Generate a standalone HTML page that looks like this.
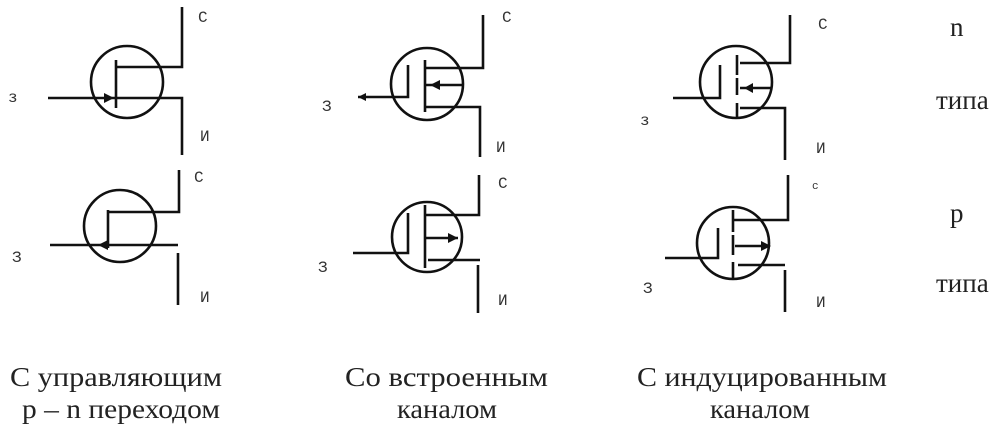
<!DOCTYPE html>
<html><head><meta charset="utf-8"><style>
body{margin:0;background:#fff;width:995px;height:424px;overflow:hidden}
svg{display:block}
.l{font-family:"Liberation Mono",monospace;font-size:16px;fill:#333}
.b{font-family:"Liberation Serif",serif;font-size:27px;fill:#222}
</style></head><body>
<svg width="995" height="424" viewBox="0 0 995 424" xmlns="http://www.w3.org/2000/svg">
<g stroke="#111" stroke-width="2.6" fill="none">
<circle cx="127" cy="82" r="36"/>
<path d="M182 7V67H116M116 60V108M48 98H182V155"/>
<circle cx="120" cy="226" r="36"/>
<path d="M179 170V212H108M108 210V248M50 245H178M178 253V305"/>
<circle cx="427" cy="84" r="36"/>
<path d="M358 97H408V65M425 60V112M425 68H483V15M425 85H463M425 107H480V157"/>
<circle cx="427" cy="237" r="35"/>
<path d="M353 253H408V213M425 205V268M425 215H479V175M425 238H458M428 260H480M478 265V313"/>
<circle cx="736" cy="82" r="36"/>
<path d="M673 98H720V65M737 55V75M737 78V95M737 103V118M740 63H790V15M740 88H772M740 108H785V160"/>
<circle cx="733" cy="243" r="36"/>
<path d="M665 258H718V228M733 210V232M733 235V255M733 262V278M733 220H788V175M735 246H770M738 265H785M785 270V312"/>
</g>
<g fill="#111">
<path d="M114 98l-10-5v10z"/>
<path d="M98 245l10-5v10z"/>
<path d="M430 85l10-5v10z"/>
<path d="M358 97l8-4v8z"/>
<path d="M458 238l-10-5v10z"/>
<path d="M744 88l9-5v10z"/>
<path d="M771 246l-10-5v10z"/>
</g>
<g class="l">
<text x="8" y="102">з</text><text x="198" y="22">С</text><text x="200" y="141">И</text>
<text x="12" y="262">З</text><text x="194" y="182">С</text><text x="200" y="302">И</text>
<text x="322" y="111">З</text><text x="502" y="22">С</text><text x="496" y="152">И</text>
<text x="318" y="272">З</text><text x="498" y="188">С</text><text x="498" y="305">И</text>
<text x="640" y="125">з</text><text x="818" y="29">С</text><text x="816" y="153">И</text>
<text x="643" y="293">З</text><text x="812" y="189" style="font-size:11px">с</text><text x="816" y="307">И</text>
</g>
<g class="b">
<text x="950" y="36">n</text><text x="936" y="109">типа</text>
<text x="950" y="222">p</text><text x="936" y="292">типа</text>
<text x="10" y="386" textLength="212" lengthAdjust="spacingAndGlyphs">С управляющим</text>
<text x="22" y="418" textLength="198" lengthAdjust="spacingAndGlyphs">р – n переходом</text>
<text x="345" y="386" textLength="203" lengthAdjust="spacingAndGlyphs">Со встроенным</text>
<text x="397" y="418" textLength="100" lengthAdjust="spacingAndGlyphs">каналом</text>
<text x="637" y="386" textLength="250" lengthAdjust="spacingAndGlyphs">С индуцированным</text>
<text x="710" y="418" textLength="100" lengthAdjust="spacingAndGlyphs">каналом</text>
</g>
</svg>
</body></html>
